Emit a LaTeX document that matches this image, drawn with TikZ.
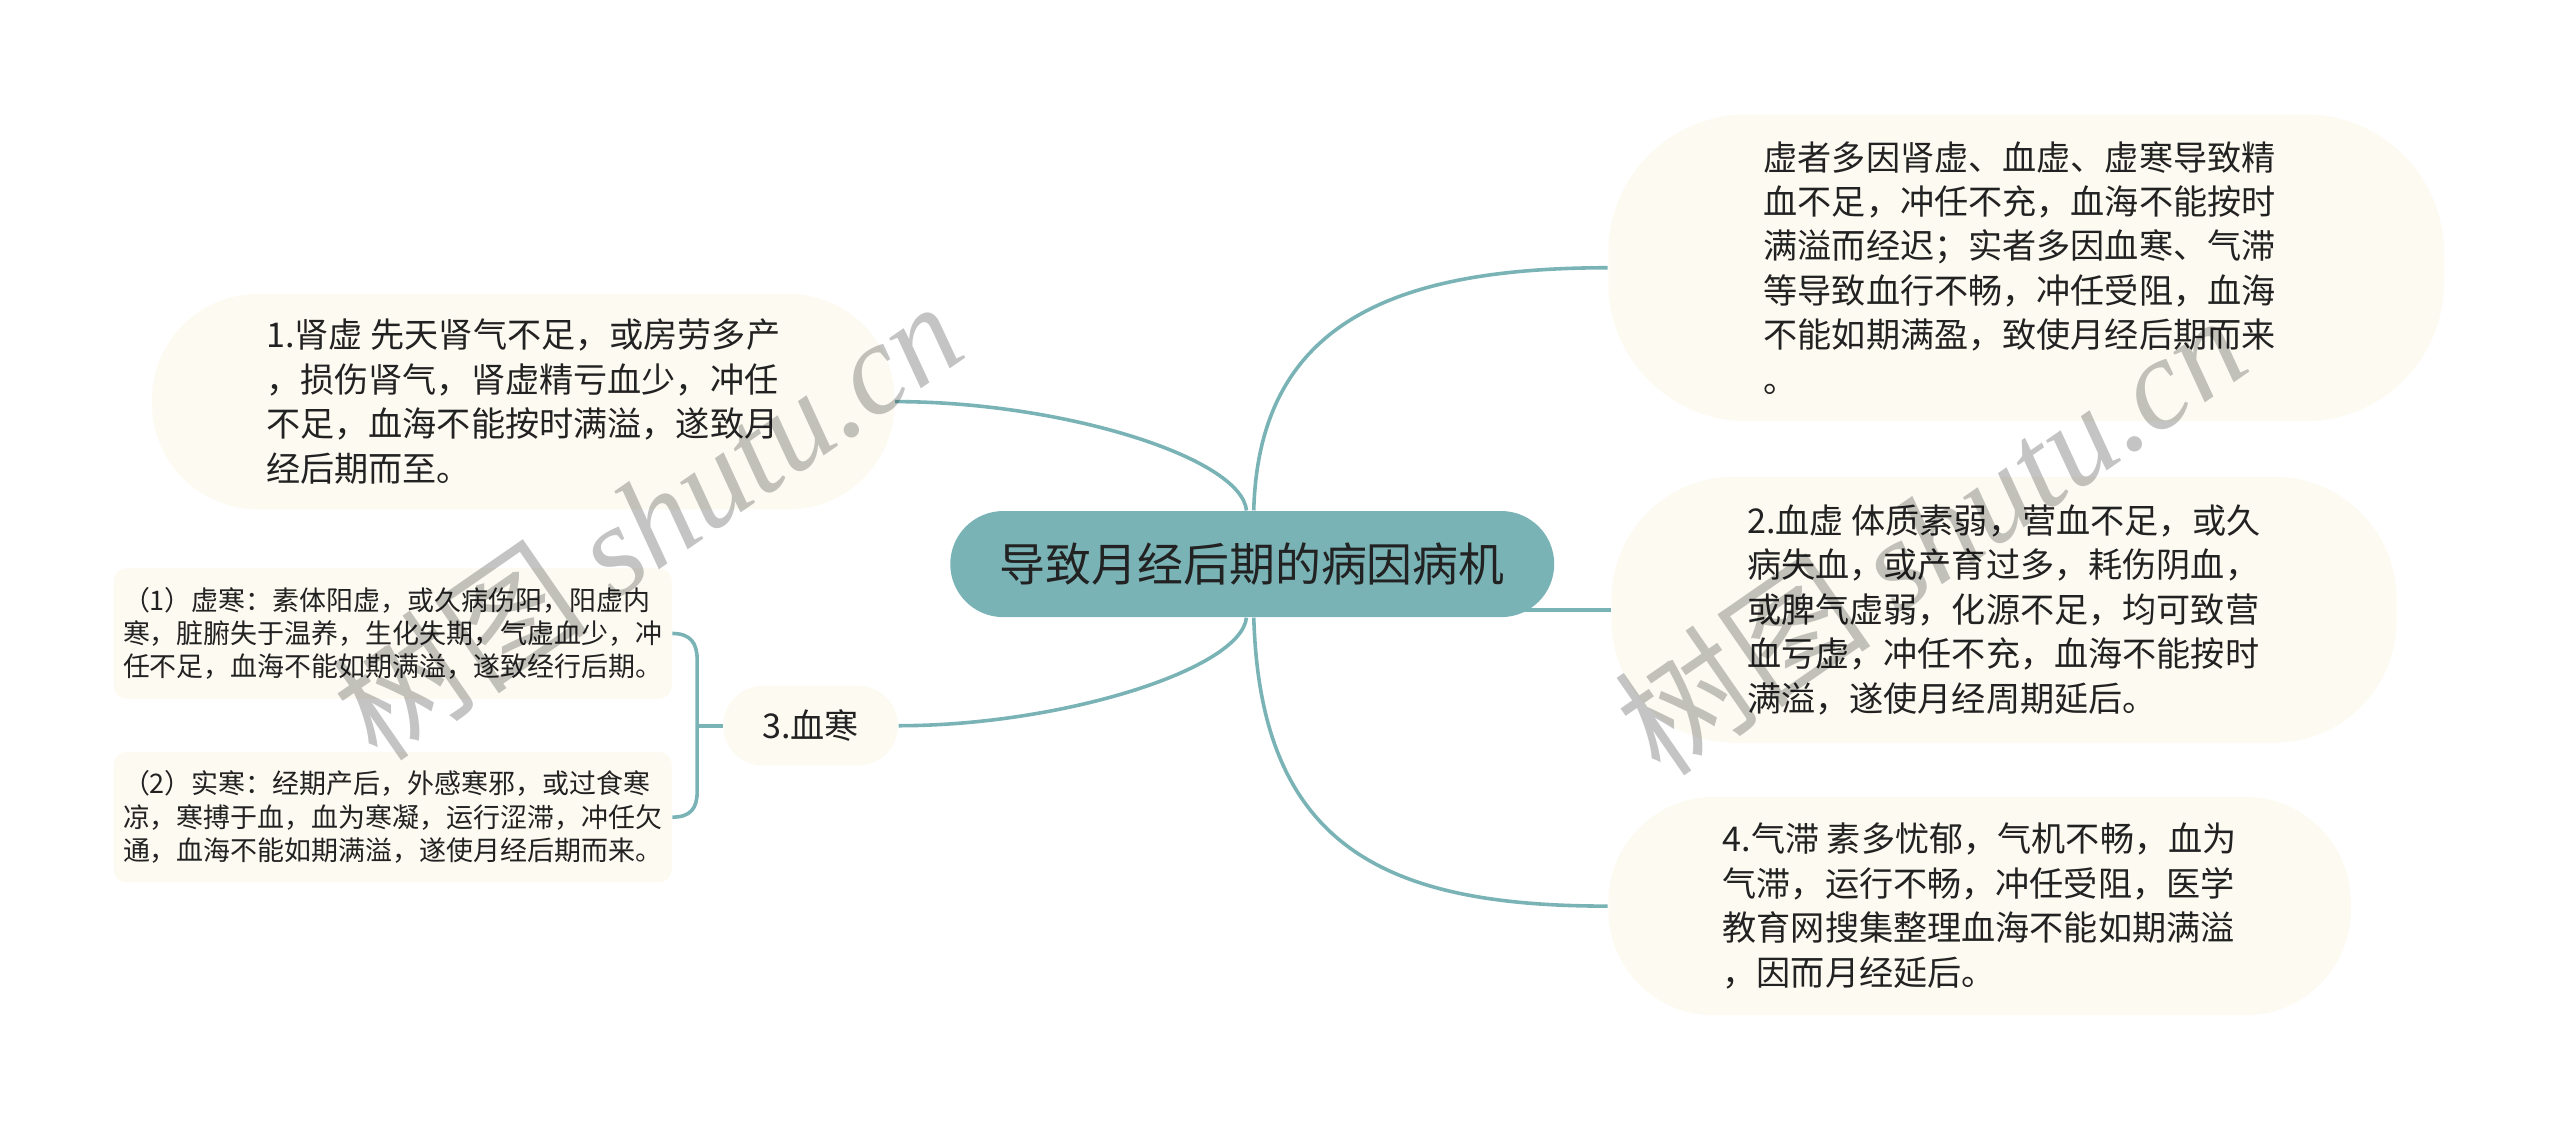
\documentclass[tikz,border=0pt]{standalone}
\usepackage{fontspec}
\setmainfont{Noto Sans CJK SC}
\newfontfamily\marklatin{Liberation Serif}
\usepackage{tikz}
\usetikzlibrary{backgrounds}
\definecolor{branchcol}{HTML}{7AB3B6}
\definecolor{creamfill}{HTML}{FCFAF1}
\definecolor{inkcol}{HTML}{222222}
\definecolor{markcol}{HTML}{C4C4C4}
\tikzstyle{rootbox}=[rectangle, fill=branchcol, rounded corners=0.65cm,% pill shaped root
minimum width=7.4cm, minimum height=1.3cm, text=inkcol, font=\fontsize{16pt}{20pt}\selectfont]
\tikzstyle{leafbox}=[rectangle, fill=creamfill, align=left, text=inkcol, font=\fontsize{11.9pt}{15.5pt}\selectfont]
\tikzstyle{subbox}=[rectangle, fill=creamfill, rounded corners=0.16cm, align=left, text=inkcol,
minimum width=6.82cm, minimum height=1.6cm, font=\fontsize{9.4pt}{11.65pt}\selectfont]
\tikzstyle{branch}=[draw=branchcol, line width=1.25pt]
\tikzstyle{wmark}=[text=markcol, rotate=34.7, inner sep=0pt, font=\fontsize{45pt}{45pt}\selectfont]

\begin{document}
\begin{tikzpicture}[x=0.02cm, y=-0.02cm]
\useasboundingbox (0,0) rectangle (1568,692);
\node[rootbox] (root) at (767,345.5) {导致月经后期的病因病机};
\node[leafbox, rounded corners=1.7cm, minimum width=10.24cm, minimum height=3.76cm] (xushi) at (1241,164) {\hspace*{-0.16cm}虚者多因肾虚、血虚、虚寒导致精\\\hspace*{-0.16cm}血不足，冲任不充，血海不能按时\\\hspace*{-0.16cm}满溢而经迟；实者多因血寒、气滞\\\hspace*{-0.16cm}等导致血行不畅，冲任受阻，血海\\\hspace*{-0.16cm}不能如期满盈，致使月经后期而来\\\hspace*{-0.16cm}。};
\node[leafbox, rounded corners=1.3cm, minimum width=9.1cm, minimum height=2.64cm] (shenxu) at (320.5,246) {1.肾虚 先天肾气不足，或房劳多产\\，损伤肾气，肾虚精亏血少，冲任\\不足，血海不能按时满溢，遂致月\\经后期而至。};
\node[leafbox, rounded corners=1.5cm, minimum width=9.62cm, minimum height=3.26cm] (xuexu) at (1227.5,373.5) {2.血虚 体质素弱，营血不足，或久\\病失血，或产育过多，耗伤阴血，\\或脾气虚弱，化源不足，均可致营\\血亏虚，冲任不充，血海不能按时\\满溢，遂使月经周期延后。};
\node[leafbox, rounded corners=1.3cm, minimum width=9.1cm, minimum height=2.68cm] (qizhi) at (1212.5,555) {4.气滞 素多忧郁，气机不畅，血为\\气滞，运行不畅，冲任受阻，医学\\教育网搜集整理血海不能如期满溢\\，因而月经延后。};
\node[leafbox, rounded corners=0.49cm, minimum width=2.14cm, minimum height=0.98cm] (xuehan) at (496.5,444.5) {3.血寒};
\node[subbox] (xuhan) at (240.5,388) {（1）虚寒：素体阳虚，或久病伤阳，阳虚内\\寒，脏腑失于温养，生化失期，气虚血少，冲\\任不足，血海不能如期满溢，遂致经行后期。};
\node[subbox] (shihan) at (240.5,500.5) {（2）实寒：经期产后，外感寒邪，或过食寒\\凉，寒搏于血，血为寒凝，运行涩滞，冲任欠\\通，血海不能如期满溢，遂使月经后期而来。};
\coordinate (brace) at (427,444.5);

% branches sit behind the boxes
\begin{scope}[on background layer]
\draw[branch] (root) .. controls (771,200) and (850,164) .. (xushi.west);
\draw[branch] (root) .. controls (760,280) and (650,246) .. (shenxu.east);
\draw[branch] (root.center |- xuexu.west) -- (xuexu.west);
\draw[branch] (root) .. controls (760,410) and (650,444.5) .. (xuehan.east);
\draw[branch] (root) .. controls (772,520) and (850,555) .. (qizhi.west);
\draw[branch] (xuhan.east) .. controls (423,388) and (427,394) .. (427,404) -- (427,485)
  .. controls (427,495) and (423,500.5) .. (shihan.east);
\draw[branch] (xuehan.west) -- (brace);
\end{scope}

\begin{scope}[blend mode=multiply]
\node[wmark] (mark1) at (396,318) {树图 {\marklatin\itshape shutu.cn}};
\node[wmark] (mark2) at (1182,327) {树图 {\marklatin\itshape shutu.cn}};
\end{scope}
\end{tikzpicture}
\end{document}
